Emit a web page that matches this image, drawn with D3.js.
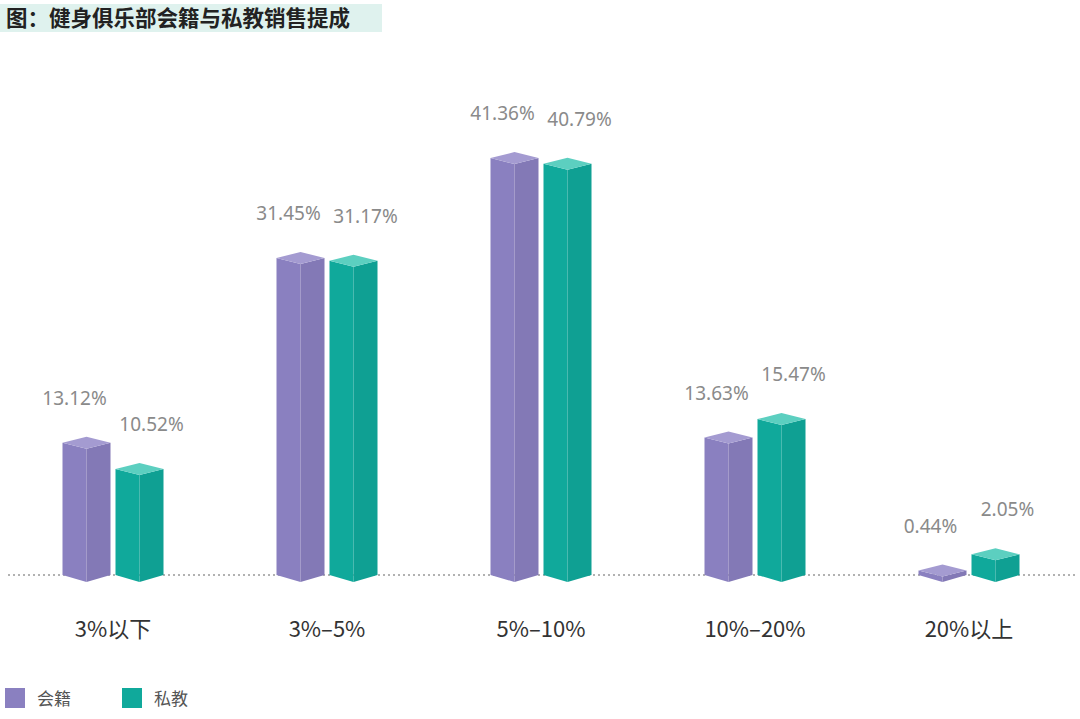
<!DOCTYPE html>
<html><head><meta charset="utf-8">
<script src="https://cdn.jsdelivr.net/npm/d3@7"></script>
<style>body{margin:0;background:#fff;font-family:"Noto Sans CJK SC","Noto Sans",sans-serif}</style>
</head><body><div id="chart"></div>
<script>
const categories = ["3%以下", "3%-5%", "5%-10%", "10%-20%", "20%以上"];
const membership = [13.12, 31.45, 41.36, 13.63, 0.44];
const coaching = [10.52, 31.17, 40.79, 15.47, 2.05];
const seriesNames = ["会籍", "私教"];
const colors = ["#8a80c0", "#10a99b"];
const capColors = ["#a49bd1", "#5ccfc0"];

const W = 1080, H = 719, base = 575;
const svg = d3.select("#chart").append("svg").attr("width", W).attr("height", H);

// title with highlight
svg.append("rect").attr("x", 0).attr("y", 4).attr("width", 382).attr("height", 28).attr("fill", "#dff2ee");
svg.append("text").attr("x", 6).attr("y", 26).attr("font-size", 21.5).attr("font-weight", "bold")
  .attr("fill", "#222").text("图：健身俱乐部会籍与私教销售提成");

const x = d3.scaleBand().domain(categories).range([6, 1076]).paddingInner(0).paddingOuter(0);
const y = d3.scaleLinear().domain([0, 45]).range([base, base - 45 * 10.08]);
const bw = 48, gap = 5;

svg.append("line").attr("x1", 8).attr("x2", 1076).attr("y1", base).attr("y2", base)
  .attr("stroke", "#999").attr("stroke-width", 1.5).attr("stroke-dasharray", "2,3");

[membership, coaching].forEach((vals, s) => {
  vals.forEach((v, i) => {
    const c = x(categories[i]) + x.bandwidth() / 2;
    const x0 = s === 0 ? c - gap / 2 - bw : c + gap / 2;
    const x1 = x0 + bw, xm = (x0 + x1) / 2;
    const yt = y(v);
    const g = svg.append("g");
    g.append("path").attr("d", `M${x0},${yt}L${xm},${yt + 6}L${xm},${base + 7}L${x0},${base}Z`)
      .attr("fill", colors[s]);
    g.append("path").attr("d", `M${xm},${yt + 6}L${x1},${yt}L${x1},${base}L${xm},${base + 7}Z`)
      .attr("fill", d3.color(colors[s]).darker(0.15));
    g.append("path").attr("d", `M${x0},${yt}L${xm},${yt - 6}L${x1},${yt}L${xm},${yt + 6}Z`)
      .attr("fill", capColors[s]);
    svg.append("text").attr("x", s === 0 ? xm - 12 : xm + 12).attr("y", yt - 38)
      .attr("text-anchor", "middle").attr("font-size", 19).attr("fill", "#8a8a8a")
      .attr("font-family", "'Noto Sans', sans-serif").text(v.toFixed(2) + "%");
  });
});

svg.selectAll(".cat").data(categories).enter().append("text")
  .attr("x", d => x(d) + x.bandwidth() / 2).attr("y", 637).attr("text-anchor", "middle")
  .attr("font-size", 22).attr("fill", "#333").text(d => d.replace("-", "–"));

seriesNames.forEach((n, i) => {
  const lx = 5 + i * 117;
  svg.append("rect").attr("x", lx).attr("y", 688).attr("width", 20).attr("height", 20).attr("fill", colors[i]);
  svg.append("text").attr("x", lx + 32).attr("y", 705).attr("font-size", 17).attr("fill", "#555").text(n);
});
</script></body></html>
